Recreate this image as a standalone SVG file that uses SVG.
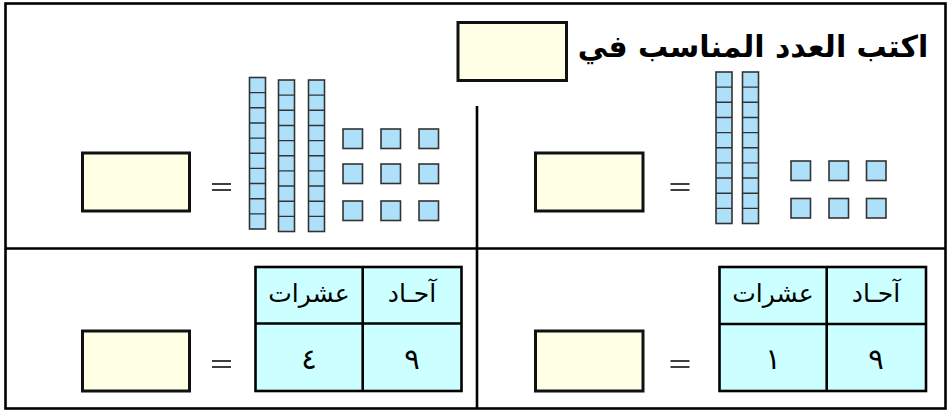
<svg xmlns="http://www.w3.org/2000/svg" xmlns:xlink="http://www.w3.org/1999/xlink" width="949" height="411" viewBox="0 0 949 411">
<style>
.ans{fill:#FFFFE6;stroke:#111;stroke-width:3}
.blk{fill:#AEE0FA;stroke:#333;stroke-width:1.6}
.cell{fill:#CCFFFF;stroke:#000;stroke-width:2.6}
.ln{stroke:#000;stroke-width:2.6;fill:none}
.eq{stroke:#000;stroke-width:1.3}
.ar{font-family:"DejaVu Sans",sans-serif;fill:#000}
.hd{font-size:25px}
.dg{font-size:29px}
</style>
<defs>
<g id="col">
<rect class="blk" x="0" y="0" width="16" height="151.5"/>
<path stroke="#333" stroke-width="1.4" d="M0 15.15H16M0 30.3H16M0 45.45H16M0 60.6H16M0 75.75H16M0 90.9H16M0 106.05H16M0 121.2H16M0 136.35H16"/>
</g>
<rect id="sq" class="blk" x="0" y="0" width="19.5" height="19.5"/>
<g id="eqs"><path class="eq" d="M0 0H19M0 6H19"/></g>
</defs>
<rect x="0" y="0" width="949" height="411" fill="#fff"/>
<g id="frame">
<rect x="5.5" y="3.5" width="940" height="405" fill="none" stroke="#000" stroke-width="2.6"/>
<path class="ln" d="M5.5 248.5H945.5M477 106V408.5"/>
</g>
<g id="title">
<rect class="ans" x="458" y="22.5" width="108.5" height="58"/>
<text class="ar" x="753" y="57" font-size="30" font-weight="bold" text-anchor="middle">اكتب العدد المناسب في</text>
</g>
<g id="blocks-left">
<use xlink:href="#col" x="249.5" y="77.5"/>
<use xlink:href="#col" x="278.5" y="80"/>
<use xlink:href="#col" x="308.5" y="80"/>
<use xlink:href="#sq" x="343" y="129"/>
<use xlink:href="#sq" x="381" y="129"/>
<use xlink:href="#sq" x="419" y="129"/>
<use xlink:href="#sq" x="343" y="164"/>
<use xlink:href="#sq" x="381" y="164"/>
<use xlink:href="#sq" x="419" y="164"/>
<use xlink:href="#sq" x="343" y="201"/>
<use xlink:href="#sq" x="381" y="201"/>
<use xlink:href="#sq" x="419" y="201"/>
<use xlink:href="#eqs" x="212" y="184"/>
<rect class="ans" x="82.5" y="153" width="107" height="58"/>
</g>
<g id="blocks-right">
<use xlink:href="#col" x="716" y="72"/>
<use xlink:href="#col" x="742.5" y="72"/>
<use xlink:href="#sq" x="791" y="161"/>
<use xlink:href="#sq" x="829" y="161"/>
<use xlink:href="#sq" x="866.5" y="161"/>
<use xlink:href="#sq" x="791" y="198.5"/>
<use xlink:href="#sq" x="829" y="198.5"/>
<use xlink:href="#sq" x="866.5" y="198.5"/>
<use xlink:href="#eqs" x="670.5" y="184"/>
<rect class="ans" x="535.5" y="153" width="107.5" height="58"/>
</g>
<g id="table-left">
<rect class="cell" x="255.5" y="267" width="206" height="124"/>
<path class="ln" d="M362.7 267V391M255.5 323.5H461.5"/>
<text class="ar hd" x="412" y="302" text-anchor="middle">آحـاد</text>
<text class="ar hd" x="309" y="302" text-anchor="middle">عشرات</text>
<text class="ar dg" x="412" y="369" text-anchor="middle">٩</text>
<text class="ar dg" x="309" y="369" text-anchor="middle">٤</text>
<use xlink:href="#eqs" x="212" y="361"/>
<rect class="ans" x="82.5" y="331" width="107" height="60"/>
</g>
<g id="table-right">
<rect class="cell" x="719.5" y="267" width="206.5" height="124"/>
<path class="ln" d="M826.7 267V391M719.5 324H926"/>
<text class="ar hd" x="876" y="302" text-anchor="middle">آحـاد</text>
<text class="ar hd" x="773" y="302" text-anchor="middle">عشرات</text>
<text class="ar dg" x="876" y="369" text-anchor="middle">٩</text>
<text class="ar dg" x="773" y="369" text-anchor="middle">١</text>
<use xlink:href="#eqs" x="670.5" y="361"/>
<rect class="ans" x="535.5" y="331" width="107.5" height="60"/>
</g>
</svg>
